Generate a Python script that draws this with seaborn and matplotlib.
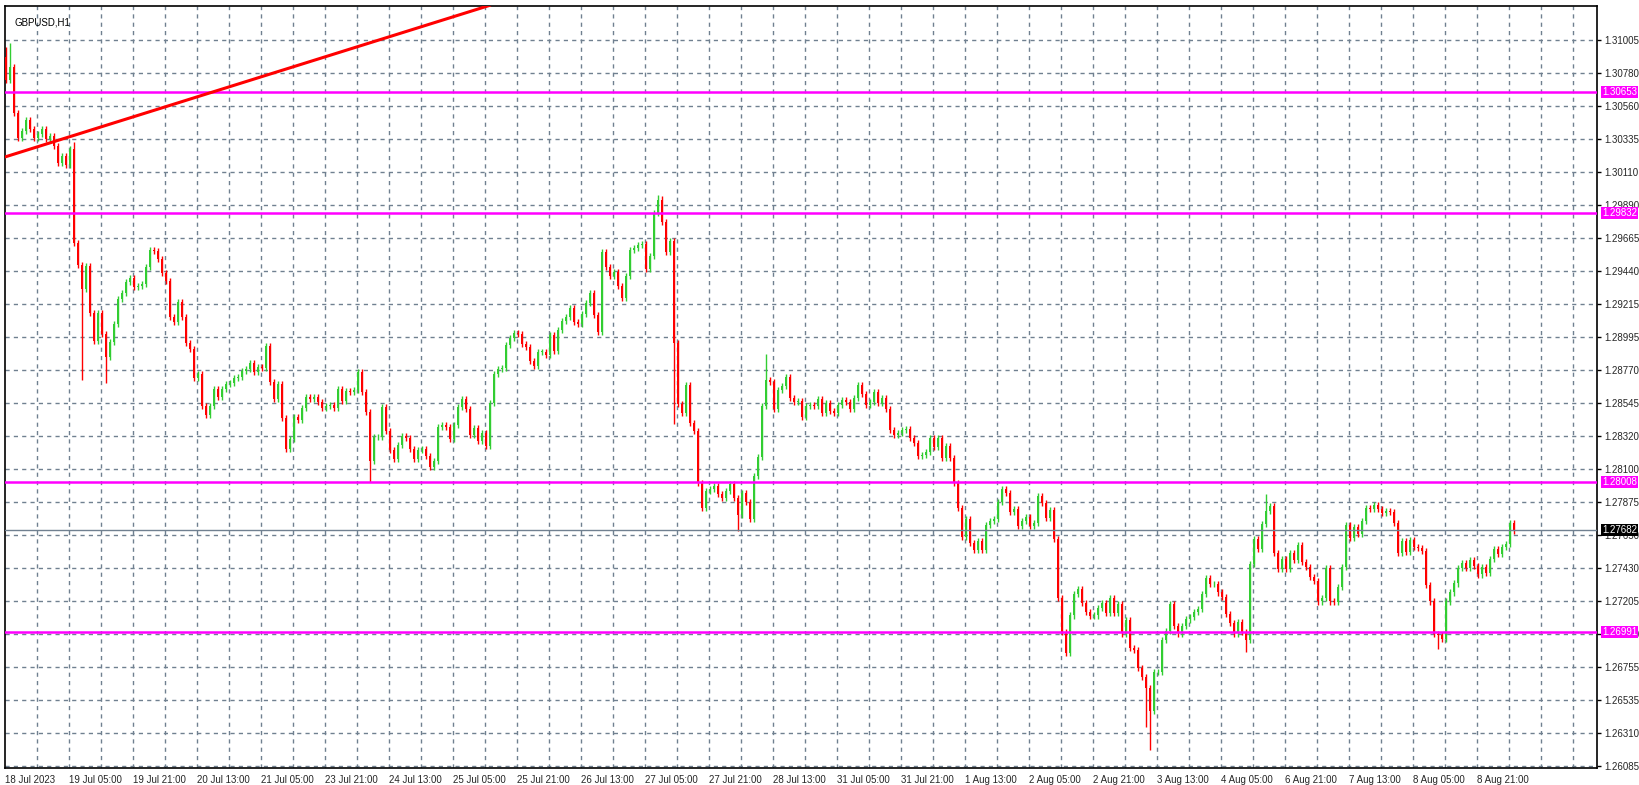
import numpy as np
import matplotlib
matplotlib.use("Agg")
import matplotlib.pyplot as plt
import seaborn as sns

symbol_label = "GBPUSD,H1"
first_open = 1.30890
closes = [
1.30734,1.30822,1.30510,1.30341,1.30388,1.30463,1.30402,1.30341,1.30368,1.30402,
1.30334,1.30354,1.30286,1.30171,1.30219,1.30157,1.30266,1.29629,1.29479,1.29317,
1.29473,1.29154,1.28964,1.29154,1.29012,1.28856,1.28957,1.29079,1.29249,1.29290,
1.29364,1.29391,1.29330,1.29337,1.29351,1.29466,1.29581,1.29574,1.29520,1.29425,
1.29371,1.29127,1.29093,1.29229,1.29127,1.28951,1.28910,1.28713,1.28740,1.28524,
1.28462,1.28524,1.28639,1.28585,1.28639,1.28673,1.28679,1.28713,1.28720,1.28761,
1.28774,1.28815,1.28754,1.28788,1.28781,1.28930,1.28686,1.28571,1.28673,1.28442,
1.28232,1.28300,1.28449,1.28429,1.28510,1.28585,1.28571,1.28585,1.28551,1.28510,
1.28524,1.28530,1.28510,1.28639,1.28557,1.28625,1.28618,1.28632,1.28754,1.28618,
1.28483,1.28151,1.28313,1.28313,1.28517,1.28354,1.28225,1.28164,1.28259,1.28320,
1.28307,1.28232,1.28164,1.28225,1.28232,1.28185,1.28110,1.28151,1.28381,1.28395,
1.28381,1.28300,1.28395,1.28517,1.28571,1.28503,1.28327,1.28374,1.28286,1.28340,
1.28252,1.28544,1.28740,1.28774,1.28781,1.28937,1.28985,1.29018,1.29012,1.28944,
1.28924,1.28829,1.28795,1.28890,1.28890,1.28869,1.29005,1.28896,1.29039,1.29100,
1.29127,1.29188,1.29093,1.29079,1.29147,1.29222,1.29290,1.29140,1.29025,1.29568,
1.29466,1.29405,1.29432,1.29337,1.29256,1.29405,1.29581,1.29595,1.29615,1.29622,
1.29452,1.29541,1.29832,1.29920,1.29771,1.29568,1.29642,1.28951,1.28537,1.28476,
1.28666,1.28408,1.28354,1.28001,1.27832,1.27947,1.27961,1.27981,1.27927,1.27900,
1.27947,1.27995,1.27900,1.27784,1.27934,1.27873,1.27757,1.28049,1.28178,1.28524,
1.28700,1.28686,1.28503,1.28632,1.28659,1.28720,1.28578,1.28551,1.28557,1.28449,
1.28524,1.28530,1.28524,1.28571,1.28476,1.28544,1.28490,1.28476,1.28530,1.28564,
1.28551,1.28503,1.28578,1.28666,1.28605,1.28530,1.28551,1.28618,1.28544,1.28578,
1.28503,1.28361,1.28327,1.28340,1.28361,1.28368,1.28307,1.28273,1.28185,1.28191,
1.28212,1.28307,1.28246,1.28307,1.28171,1.28252,1.28171,1.28001,1.27832,1.27635,
1.27757,1.27595,1.27547,1.27608,1.27547,1.27717,1.27744,1.27757,1.27873,1.27961,
1.27934,1.27805,1.27825,1.27710,1.27744,1.27771,1.27710,1.27730,1.27913,1.27866,
1.27764,1.27818,1.27622,1.27222,1.26991,1.26849,1.27106,1.27249,1.27283,1.27188,
1.27127,1.27100,1.27106,1.27154,1.27188,1.27120,1.27222,1.27120,1.27181,1.26984,
1.27073,1.26883,1.26869,1.26747,1.26686,1.26612,1.26456,1.26720,1.26720,1.26937,
1.26998,1.27181,1.27032,1.26984,1.27032,1.27079,1.27093,1.27127,1.27147,1.27249,
1.27357,1.27317,1.27317,1.27262,1.27229,1.27113,1.27052,1.26984,1.27059,1.26991,
1.26937,1.27452,1.27622,1.27554,1.27723,1.27812,1.27846,1.27527,1.27418,1.27486,
1.27418,1.27527,1.27479,1.27581,1.27466,1.27432,1.27364,1.27337,1.27201,1.27222,
1.27425,1.27201,1.27195,1.27296,1.27432,1.27717,1.27629,1.27703,1.27656,1.27744,
1.27832,1.27825,1.27852,1.27825,1.27798,1.27812,1.27805,1.27730,1.27527,1.27608,
1.27534,1.27615,1.27568,1.27561,1.27540,1.27310,1.27201,1.26978,1.26971,1.26944,
1.27201,1.27262,1.27323,1.27425,1.27459,1.27425,1.27479,1.27439,1.27384,1.27432,
1.27391,1.27486,1.27554,1.27520,1.27568,1.27588,1.27730,1.27682,
]
# notable wick extremes: bar -> price
high_extremes = {0: 1.30960, 1: 1.30985, 17: 1.30310, 163: 1.29954, 164: 1.29950, 190: 1.28880, 315: 1.27930}
low_extremes = {19: 1.28700, 25: 1.28680, 91: 1.28010, 167: 1.28400, 183: 1.27680, 286: 1.26193, 285: 1.26350, 310: 1.26860, 358: 1.26880}

h_levels = [1.30653, 1.29832, 1.28008, 1.26991]
current_price = 1.27682
trend_start = (-0.25, 1.30212)
trend_end = (121.0, 1.31240)

y_tick_labels = ["1.26085","1.26310","1.26535","1.26755","1.26980","1.27205","1.27430","1.27650",
                 "1.27875","1.28100","1.28320","1.28545","1.28770","1.28995","1.29215","1.29440",
                 "1.29665","1.29890","1.30110","1.30335","1.30560","1.30780","1.31005"]
x_tick_labels = ["18 Jul 2023","19 Jul 05:00","19 Jul 21:00","20 Jul 13:00","21 Jul 05:00","23 Jul 21:00",
                 "24 Jul 13:00","25 Jul 05:00","25 Jul 21:00","26 Jul 13:00","27 Jul 05:00","27 Jul 21:00",
                 "28 Jul 13:00","31 Jul 05:00","31 Jul 21:00","1 Aug 13:00","2 Aug 05:00","2 Aug 21:00",
                 "3 Aug 13:00","4 Aug 05:00","6 Aug 21:00","7 Aug 13:00","8 Aug 05:00","8 Aug 21:00"]

sns.set_style("white")
plt.rcParams['font.family'] = ['Liberation Sans', 'DejaVu Sans']
FS = 7

closes_a = np.array(closes)
opens_a = np.concatenate([[first_open], closes_a[:-1]])
n = len(closes_a)
idx = np.arange(n)
pad = 0.00022
highs = np.maximum(opens_a, closes_a) + pad
lows = np.minimum(opens_a, closes_a) - pad
for k, v in high_extremes.items():
    highs[k] = max(highs[k], v)
for k, v in low_extremes.items():
    lows[k] = min(lows[k], v)

fig = plt.figure(figsize=(16.39, 7.85), dpi=100)
ax = fig.add_axes([5/1639, 17/785, 1592/1639, 762/785])
ymin, ymax = 1.26071, 1.31235
ax.set_xlim(-0.25, 397.75)
ax.set_ylim(ymin, ymax)

yt = np.linspace(1.26085, 1.31005, len(y_tick_labels))
for y in yt:
    ax.axhline(y, color="#708090", lw=1, ls=(0, (3, 3)), zorder=0)
for xg in np.arange(7.75, 398, 8):
    ax.axvline(xg, color="#708090", lw=1, ls=(0, (3, 3)), zorder=0)

up = closes_a >= opens_a
colors = np.where(up, "#32CD32", "#FF0000")
ax.vlines(idx, lows, highs, colors=colors, lw=1, zorder=2)
body_h = np.abs(closes_a - opens_a)
body_h = np.where(body_h < 0.00004, 0.00004, body_h)
ax.bar(idx, body_h, bottom=np.minimum(opens_a, closes_a), width=0.72, color=colors, lw=0, zorder=3)

for lv in h_levels:
    ax.axhline(lv, color="#FF00FF", lw=1.8, zorder=4)
ax.axhline(current_price, color="#708090", lw=1, zorder=4)
ax.plot([trend_start[0], trend_end[0]], [trend_start[1], trend_end[1]], color="#FF0000", lw=2.2, zorder=5, clip_on=True)

ax.yaxis.tick_right()
ax.set_yticks(yt)
ax.set_yticklabels(y_tick_labels, fontsize=FS)
ax.set_xticks(np.arange(0, 16 * len(x_tick_labels), 16) - 0.25)
ax.set_xticklabels(x_tick_labels, fontsize=FS, ha="left")
ax.tick_params(axis="both", length=3, width=1, color="black", pad=2, direction="out")
for sp in ax.spines.values():
    sp.set_color("black")
    sp.set_linewidth(1.2)

for lv in h_levels:
    ax.annotate(f"{lv:.5f}", xy=(1.0, lv), xycoords=("axes fraction", "data"), xytext=(3.5, 0),
                textcoords="offset points", va="center", ha="left", fontsize=FS, color="white",
                bbox=dict(boxstyle="square,pad=0.12", fc="#FF00FF", ec="none"), zorder=10, annotation_clip=False)
ax.annotate(f"{current_price:.5f}", xy=(1.0, current_price), xycoords=("axes fraction", "data"), xytext=(3.5, 0),
            textcoords="offset points", va="center", ha="left", fontsize=FS, color="white",
            bbox=dict(boxstyle="square,pad=0.12", fc="black", ec="none"), zorder=10, annotation_clip=False)

ax.text(0.006, 0.985, symbol_label, transform=ax.transAxes, fontsize=FS, va="top", ha="left", color="black")

fig.savefig("out.png", dpi=100, facecolor="white")
